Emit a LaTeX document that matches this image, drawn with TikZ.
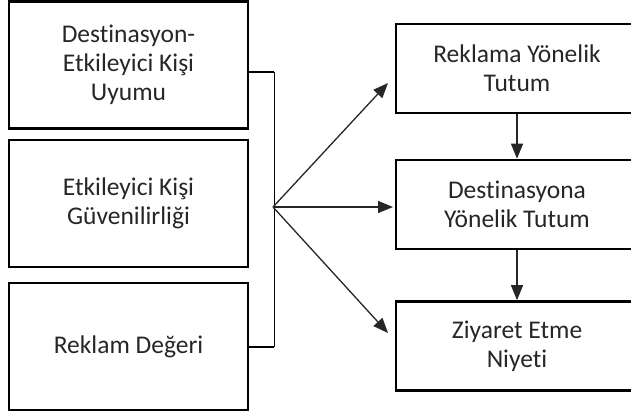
\documentclass[tikz,border=0pt]{standalone}
\usepackage{fontspec}
\setmainfont{Carlito}[Ligatures=NoCommon]
\usetikzlibrary{arrows.meta}
\def\genislik{631}
\def\yukseklik{416}

\begin{document}
\begin{tikzpicture}[x=1pt, y=-1pt,
  kutu/.style={draw, line width=2.6pt, align=center, text=black!85,
    font=\fontsize{25.5}{29}\selectfont, inner sep=0pt},
  solkutu/.style={kutu, minimum width=239pt, minimum height=127pt},
  sagkutu/.style={kutu, minimum width=242pt, minimum height=89pt},
  ok/.style={-{Triangle[length=15pt,width=12pt]}, line width=1.3pt, black!85}]
\useasboundingbox (0,0) rectangle (\genislik,\yukseklik);
\node[solkutu] (uyum) at (128.5,65) {Destinasyon-\\Etkileyici Kişi\\Uyumu};
\node[solkutu] (guven) at (128.5,203.5) {Etkileyici Kişi\\Güvenilirliği};
\node[solkutu] (deger) at (128.5,346.5) {Reklam Değeri};
\node[sagkutu] (reklam) at (517,68.5) {Reklama Yönelik\\Tutum};
\node[sagkutu] (destinasyon) at (517,204.5) {Destinasyona\\Yönelik Tutum};
\node[sagkutu] (ziyaret) at (517,346) {Ziyaret Etme\\Niyeti};
\coordinate (fan) at (273,207);
\coordinate (uc1) at (388,83);
\coordinate (uc2) at (393,207);
\coordinate (uc3) at (388,333);
\draw[line width=2pt] ([yshift=-7pt]uyum.east) -- ++(25,0) coordinate (ust);
\draw[line width=2pt] (deger.east) -- ++(25,0) coordinate (alt);
\draw[line width=1.4pt] (ust) -- (alt);
\draw[ok] (fan) -- (uc1);
\draw[ok] (fan) -- (uc2);
\draw[ok] (fan) -- (uc3);
\draw[ok] (reklam) -- (destinasyon);
\draw[ok] (destinasyon) -- (ziyaret);
\end{tikzpicture}
\end{document}
